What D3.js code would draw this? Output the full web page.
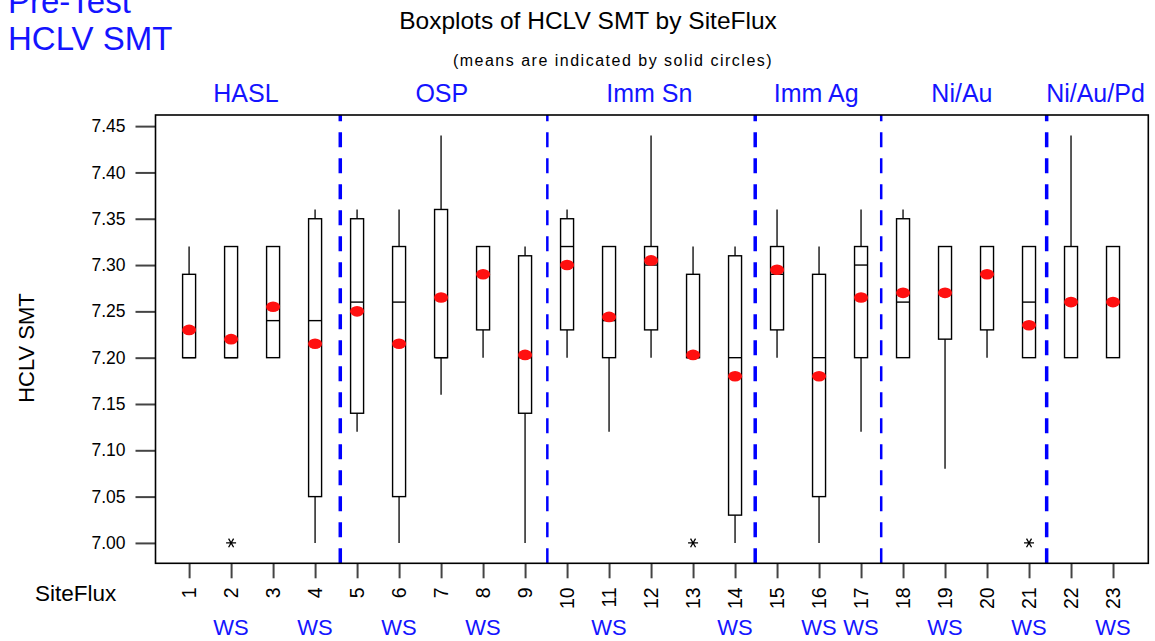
<!DOCTYPE html>
<html lang="en">
<head>
    <meta charset="UTF-8">
    <title>Boxplots of HCLV SMT by SiteFlux</title>
    <script src="https://cdn.jsdelivr.net/npm/d3@7"></script>
    <style>
        body{ margin:0; background:#fff; }
        text{ font-family: Arial, "Liberation Sans", sans-serif; }
        .blue{ fill:#1414ff; }
    </style>
</head>
<body>
<svg width="1155" height="641"></svg>
<script>
    // values
    const siteFlux = d3.range(1, 24);
    const mins    = [7.20,7.20,7.20,7.00,7.12,7.00,7.16,7.20,7.00,7.20,7.12,7.20,7.20,7.00,7.20,7.00,7.12,7.20,7.08,7.20,7.20,7.20,7.20];
    const q1s     = [7.20,7.20,7.20,7.05,7.14,7.05,7.20,7.23,7.14,7.23,7.20,7.23,7.20,7.03,7.23,7.05,7.20,7.20,7.22,7.23,7.20,7.20,7.20];
    const medians = [7.20,7.20,7.24,7.24,7.26,7.26,7.20,7.29,7.20,7.32,7.24,7.30,7.20,7.20,7.29,7.20,7.30,7.26,7.27,7.29,7.26,7.26,7.26];
    const q3s     = [7.29,7.32,7.32,7.35,7.35,7.32,7.36,7.32,7.31,7.35,7.32,7.32,7.29,7.31,7.32,7.29,7.32,7.35,7.32,7.32,7.32,7.32,7.32];
    const maxs    = [7.32,7.32,7.32,7.36,7.36,7.36,7.44,7.32,7.32,7.36,7.32,7.44,7.32,7.32,7.36,7.32,7.36,7.36,7.32,7.32,7.32,7.44,7.32];
    const means   = [7.23,7.22,7.255,7.215,7.25,7.215,7.265,7.29,7.203,7.30,7.244,7.305,7.203,7.18,7.295,7.18,7.265,7.27,7.27,7.29,7.235,7.26,7.26];
    const outlierSite  = [2, 13, 21];
    const outlierValue = [7.00, 7.00, 7.00];
    const wsSites = [2, 4, 6, 8, 11, 14, 16, 17, 19, 21, 23];

    const groupNames = ["HASL", "OSP", "Imm Sn", "Imm Ag", "Ni/Au", "Ni/Au/Pd"];
    const dividers   = [4.6, 9.53, 14.48, 17.48, 21.42];

    const yTicks = [7.00, 7.05, 7.10, 7.15, 7.20, 7.25, 7.30, 7.35, 7.40, 7.45];

    const svg = d3.select("svg");
    const x = d3.scaleLinear().domain([0.2, 23.84]).range([155.5, 1148.3]);
    const y = d3.scaleLinear().domain([6.978, 7.462]).range([563.3, 115]);
    const [plotLeft, plotRight] = x.range();
    const [plotBottom, plotTop] = y.range();
    const boxW = 13;
    const font = "Arial, 'Liberation Sans', sans-serif";

    // titles (the first line is clipped by the top edge, as in the original)
    svg.append("text").attr("class", "blue").attr("x", 8).attr("y", 13)
        .attr("font-size", 33).text("Pre-Test");
    svg.append("text").attr("class", "blue").attr("x", 8).attr("y", 50)
        .attr("font-size", 33).text("HCLV SMT");
    svg.append("text").attr("x", 588).attr("y", 29).attr("text-anchor", "middle")
        .attr("font-size", 24.5).text("Boxplots of HCLV SMT by SiteFlux");
    svg.append("text").attr("x", 613).attr("y", 66).attr("text-anchor", "middle")
        .attr("font-size", 16).attr("letter-spacing", 1.5)
        .text("(means are indicated by solid circles)");

    // group labels, centred between the dividers
    const edges = [x.domain()[0], ...dividers, x.domain()[1]];
    svg.append("g").selectAll("text").data(groupNames).join("text")
        .attr("class", "blue")
        .attr("x", (d, i) => (x(edges[i]) + x(edges[i + 1])) / 2 - 2)
        .attr("y", 102)
        .attr("text-anchor", "middle")
        .attr("font-size", 25)
        .text(d => d);

    // y axis
    const yAxis = svg.append("g").attr("transform", `translate(${plotLeft},0)`)
        .call(d3.axisLeft(y).tickValues(yTicks).tickFormat(d3.format(".2f")).tickSize(20).tickPadding(10));
    yAxis.select(".domain").remove();
    yAxis.selectAll(".tick line").attr("stroke", "#444").attr("stroke-width", 2);
    yAxis.selectAll(".tick text").attr("font-size", 17.5).attr("fill", "#000")
        .style("font-family", font);

    // x axis
    const xAxis = svg.append("g").attr("transform", `translate(0,${plotBottom})`)
        .call(d3.axisBottom(x).tickValues(siteFlux).tickFormat(d3.format("d")).tickSize(15).tickPadding(8));
    xAxis.select(".domain").remove();
    xAxis.selectAll(".tick line").attr("stroke", "#444").attr("stroke-width", 2);
    xAxis.selectAll(".tick text")
        .attr("font-size", 19.5).attr("fill", "#000")
        .style("font-family", font)
        .attr("transform", "rotate(-90)")
        .attr("text-anchor", "end")
        .attr("dy", "0.35em")
        .attr("x", -24)
        .attr("y", 0);

    // axis titles
    svg.append("text").attr("transform", "translate(34,348) rotate(-90)")
        .attr("text-anchor", "middle").attr("font-size", 22).text("HCLV SMT");
    svg.append("text").attr("x", 35).attr("y", 601).attr("font-size", 22.5).text("SiteFlux");

    svg.append("g").selectAll("text").data(wsSites).join("text")
        .attr("class", "blue")
        .attr("x", d => x(d))
        .attr("y", 635)
        .attr("text-anchor", "middle")
        .attr("font-size", 22)
        .text("WS");

    // dashed group dividers
    svg.append("g").selectAll("line").data(dividers).join("line")
        .attr("x1", d => x(d)).attr("x2", d => x(d))
        .attr("y1", plotBottom).attr("y2", plotTop)
        .attr("stroke", "#0000ff")
        .attr("stroke-width", (d, i) => i % 2 === 0 ? 3.5 : 2.5)
        .attr("stroke-dasharray", "15,11");

    // boxes
    const boxes = svg.append("g").selectAll("g").data(siteFlux).join("g");
    boxes.append("line")
        .attr("x1", d => x(d)).attr("x2", d => x(d))
        .attr("y1", (d, i) => y(maxs[i])).attr("y2", (d, i) => y(q3s[i]))
        .attr("stroke", "#222").attr("stroke-width", 1.5);
    boxes.append("line")
        .attr("x1", d => x(d)).attr("x2", d => x(d))
        .attr("y1", (d, i) => y(q1s[i])).attr("y2", (d, i) => y(mins[i]))
        .attr("stroke", "#222").attr("stroke-width", 1.5);
    boxes.append("rect")
        .attr("x", d => x(d) - boxW / 2).attr("width", boxW)
        .attr("y", (d, i) => y(q3s[i]))
        .attr("height", (d, i) => y(q1s[i]) - y(q3s[i]))
        .attr("fill", "none").attr("stroke", "#000").attr("stroke-width", 1.4);
    boxes.append("line")
        .attr("x1", d => x(d) - boxW / 2).attr("x2", d => x(d) + boxW / 2)
        .attr("y1", (d, i) => y(medians[i])).attr("y2", (d, i) => y(medians[i]))
        .attr("stroke", "#000").attr("stroke-width", 1.4);
    boxes.append("ellipse")
        .attr("cx", d => x(d)).attr("cy", (d, i) => y(means[i]))
        .attr("rx", 7).attr("ry", 5.3)
        .attr("fill", "#ff1010");

    // outliers
    svg.append("g").selectAll("path").data(outlierSite).join("path")
        .attr("transform", (d, i) => `translate(${x(d)},${y(outlierValue[i])}) rotate(90)`)
        .attr("d", d3.symbol(d3.symbolAsterisk, 70))
        .attr("stroke", "#000").attr("stroke-width", 1.3).attr("fill", "none");

    // frame
    svg.append("rect")
        .attr("x", plotLeft).attr("y", plotTop)
        .attr("width", plotRight - plotLeft).attr("height", plotBottom - plotTop)
        .attr("fill", "none").attr("stroke", "#000").attr("stroke-width", 1.6);
</script>
</body>
</html>
